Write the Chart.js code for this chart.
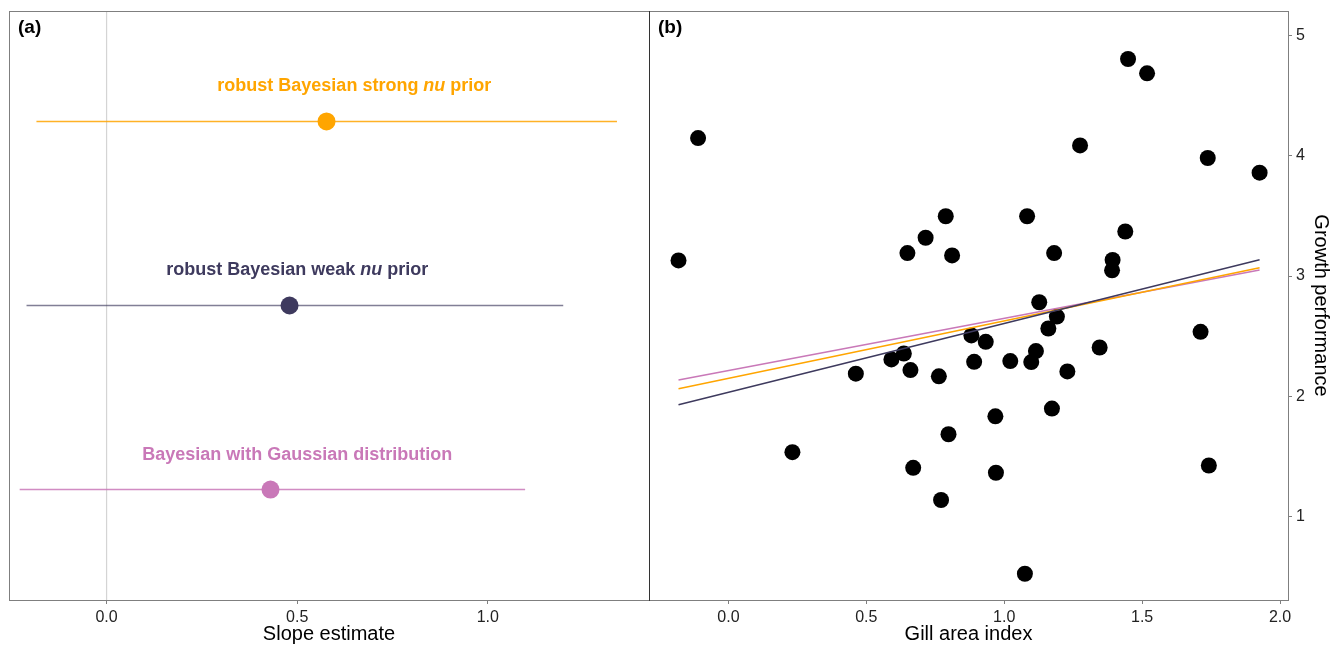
<!DOCTYPE html>
<html>
<head>
<meta charset="utf-8">
<script src="https://cdn.jsdelivr.net/npm/chart.js@4.4.0/dist/chart.umd.min.js"></script>
<style>
  html, body { margin: 0; padding: 0; background: #fff; }
  #wrap { position: relative; width: 1333px; height: 646px; overflow: hidden; }
  .panel { position: absolute; top: 0; height: 646px; }
  #panelA { left: 0; width: 660px; }
  #panelB { left: 640px; width: 693px; }
</style>
</head>
<body>
<div id="wrap">
  <div class="panel" id="panelA"><canvas id="slopeChart" width="660" height="646"></canvas></div>
  <div class="panel" id="panelB"><canvas id="gillChart" width="693" height="646"></canvas></div>
</div>
<script>
// (a) slope estimates per model
const models = ['robust Bayesian strong nu prior', 'robust Bayesian weak nu prior', 'Bayesian with Gaussian distribution'];
const modelRows = [3, 2, 1];
const slopeMean = [0.577, 0.480, 0.430];
const slopeLower = [-0.184, -0.210, -0.228];
const slopeUpper = [1.339, 1.198, 1.098];
const labelX = [0.65, 0.50, 0.50];
const slopeTicks = [0, 0.5, 1.0];

// (b) raw data and fitted lines
const gillArea = [-0.181, -0.110, 0.232, 0.462, 0.591, 0.636, 0.649, 0.660, 0.670, 0.715, 0.763, 0.771, 0.788, 0.798, 0.811, 0.881, 0.891, 0.933, 0.968, 0.970, 1.022, 1.075, 1.083, 1.098, 1.115, 1.127, 1.160, 1.173, 1.181, 1.191, 1.229, 1.275, 1.346, 1.391, 1.393, 1.439, 1.449, 1.518, 1.712, 1.738, 1.742, 1.926];
const growth = [3.130, 4.147, 1.536, 2.188, 2.307, 2.356, 3.191, 2.218, 1.406, 3.318, 2.166, 1.138, 3.497, 1.685, 3.171, 2.506, 2.287, 2.453, 1.834, 1.365, 2.293, 0.525, 3.497, 2.285, 2.376, 2.782, 2.564, 1.898, 3.191, 2.663, 2.207, 4.086, 2.406, 3.047, 3.133, 3.370, 4.804, 4.685, 2.536, 3.981, 1.425, 3.859];
const fitX = [-0.181, 1.926];
const fitStrong = [2.063, 3.068];
const fitWeak = [1.930, 3.135];
const fitGauss = [2.135, 3.050];
const gillTicks = [0, 0.5, 1.0, 1.5, 2.0];
const growthTicks = [1, 2, 3, 4, 5];

const modelColors = ['#FFA500', '#3E3A5E', '#C978B8'];
const modelLineColors = ['rgba(255,165,0,0.85)', 'rgba(62,58,94,0.65)', 'rgba(201,120,184,0.85)'];

const FONT = "'Liberation Sans', Arial, Helvetica, sans-serif";
const AXIS_GREY = '#7f7f7f';

Chart.defaults.font.family = FONT;
Chart.defaults.animation = false;

// frame around the plot area, darker edge where the panels meet
function framePlugin(darkSide, letter) {
    return {
        id: 'frame',
        afterDraw(chart) {
            const { ctx, chartArea: a } = chart;
            ctx.save();
            ctx.lineWidth = 1;
            ctx.strokeStyle = AXIS_GREY;
            ctx.strokeRect(Math.round(a.left) + 0.5, Math.round(a.top) + 0.5,
                Math.round(a.right - a.left), Math.round(a.bottom - a.top));
            ctx.strokeStyle = '#333';
            const x = darkSide === 'right' ? Math.round(a.right) + 0.5 : Math.round(a.left) + 0.5;
            ctx.beginPath();
            ctx.moveTo(x, Math.round(a.top));
            ctx.lineTo(x, Math.round(a.bottom) + 1);
            ctx.stroke();

            ctx.fillStyle = '#000';
            ctx.font = 'bold 19px ' + FONT;
            ctx.textBaseline = 'middle';
            ctx.textAlign = 'left';
            ctx.fillText(letter, a.left + 9, a.top + 17);
            ctx.restore();
        }
    };
}

// model names above each interval, with "nu" in italics
const modelLabels = {
    id: 'modelLabels',
    afterDatasetsDraw(chart) {
        const { ctx, scales } = chart;
        ctx.save();
        ctx.textBaseline = 'middle';
        models.forEach((name, i) => {
            const parts = name.split(/(\bnu\b)/).filter(p => p.length);
            const fonts = parts.map(p => (p === 'nu' ? 'italic bold 18px ' : 'bold 18px ') + FONT);
            let total = 0;
            const widths = parts.map((p, k) => {
                ctx.font = fonts[k];
                const w = ctx.measureText(p).width;
                total += w;
                return w;
            });
            let x = scales.x.getPixelForValue(labelX[i]) - total / 2;
            const y = scales.y.getPixelForValue(modelRows[i]) - 35;
            ctx.fillStyle = modelColors[i];
            ctx.textAlign = 'left';
            parts.forEach((p, k) => {
                ctx.font = fonts[k];
                ctx.fillText(p, x, y);
                x += widths[k];
            });
        });
        ctx.restore();
    }
};

function tickAxis(ticks, fmt, title) {
    return {
        type: 'linear',
        afterBuildTicks: scale => { scale.ticks = ticks.map(v => ({ value: v })); },
        grid: { drawOnChartArea: false, drawTicks: true, tickLength: 4, color: AXIS_GREY },
        border: { display: false },
        ticks: { color: '#222', font: { size: 16 }, padding: 4, callback: fmt, maxRotation: 0, autoSkip: false },
        title: { display: true, text: title, color: '#000', font: { size: 20 }, padding: 0 }
    };
}

// panel (a)
const intervalSets = models.map((m, i) => ({
    type: 'line',
    data: [{ x: slopeLower[i], y: modelRows[i] }, { x: slopeUpper[i], y: modelRows[i] }],
    borderColor: modelLineColors[i],
    borderWidth: 1.5,
    pointRadius: 0,
    order: 2
}));

new Chart(document.getElementById('slopeChart'), {
    type: 'scatter',
    data: {
        datasets: [
            {
                data: modelRows.map((r, i) => ({ x: slopeMean[i], y: r })),
                backgroundColor: modelColors,
                borderWidth: 0,
                pointRadius: 9,
                order: 1
            },
            ...intervalSets,
            {
                type: 'line',
                data: [{ x: 0, y: 0.4 }, { x: 0, y: 3.6 }],
                borderColor: '#d4d4d4',
                borderWidth: 1.2,
                pointRadius: 0,
                order: 3
            }
        ]
    },
    options: {
        responsive: false,
        layout: { padding: { left: 8, right: 11, top: 11, bottom: 0 } },
        plugins: { legend: { display: false }, tooltip: { enabled: false } },
        scales: {
            x: Object.assign(tickAxis(slopeTicks, v => v.toFixed(1), 'Slope estimate'), {
                min: -0.256, max: 1.423,
                afterFit: scale => { scale.height = 46; }
            }),
            y: { type: 'linear', min: 0.4, max: 3.6, display: false }
        }
    },
    plugins: [modelLabels, framePlugin('right', '(a)')]
});

// panel (b)
function fitLine(values, color) {
    return {
        type: 'line',
        data: fitX.map((x, i) => ({ x: x, y: values[i] })),
        borderColor: color,
        borderWidth: 1.5,
        pointRadius: 0,
        order: 1
    };
}

new Chart(document.getElementById('gillChart'), {
    type: 'scatter',
    data: {
        datasets: [
            fitLine(fitWeak, modelColors[1]),
            fitLine(fitStrong, modelColors[0]),
            fitLine(fitGauss, modelColors[2]),
            {
                data: gillArea.map((x, i) => ({ x: x, y: growth[i] })),
                backgroundColor: '#000',
                borderWidth: 0,
                pointRadius: 8,
                order: 2
            }
        ]
    },
    options: {
        responsive: false,
        layout: { padding: { left: 9, right: 0, top: 11, bottom: 0 } },
        plugins: { legend: { display: false }, tooltip: { enabled: false } },
        scales: {
            x: Object.assign(tickAxis(gillTicks, v => v.toFixed(1), 'Gill area index'), {
                min: -0.288, max: 2.029,
                afterFit: scale => { scale.height = 46; }
            }),
            y: Object.assign(tickAxis(growthTicks, v => String(v), 'Growth performance'), {
                position: 'right',
                min: 0.307, max: 5.203,
                afterFit: scale => {
                    scale.width = 45;
                    scale.paddingTop = 0;
                    scale.paddingBottom = 0;
                }
            })
        }
    },
    plugins: [framePlugin('left', '(b)')]
});
</script>
</body>
</html>
